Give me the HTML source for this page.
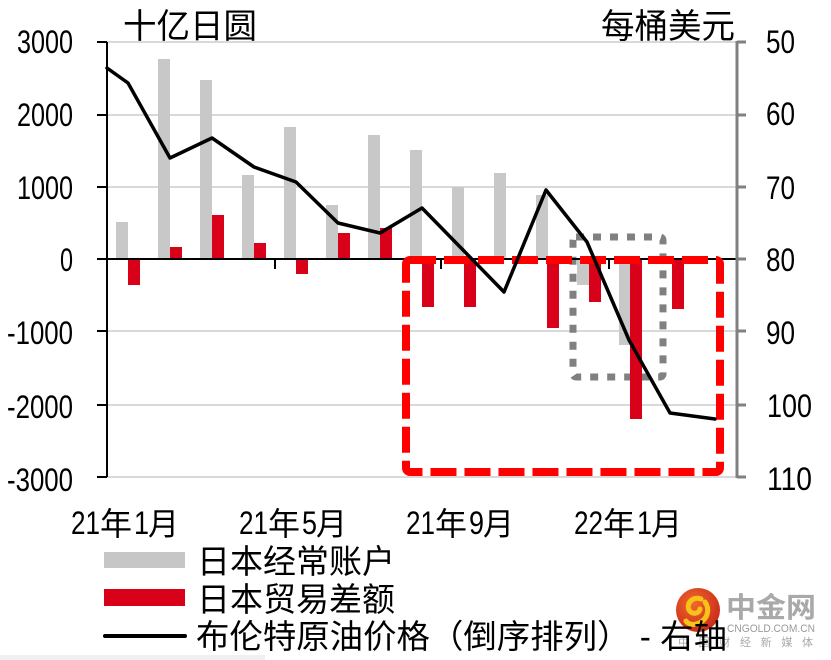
<!DOCTYPE html>
<html>
<head>
<meta charset="utf-8">
<style>
html,body{margin:0;padding:0;background:#fff;}
svg{display:block;}
.num{font-family:"Liberation Sans",sans-serif;font-size:32px;fill:#000;}
.cjk{font-family:"Liberation Sans","Noto Sans CJK SC",sans-serif;fill:#000;}
</style>
</head>
<body>
<svg width="831" height="660" viewBox="0 0 831 660" xmlns="http://www.w3.org/2000/svg">
  <rect x="0" y="0" width="831" height="660" fill="#fff"/>

  <!-- gridlines -->
  <g stroke="#d9d9d9" stroke-width="2">
    <line x1="107" y1="42" x2="737" y2="42"/>
    <line x1="107" y1="115" x2="737" y2="115"/>
    <line x1="107" y1="187" x2="737" y2="187"/>
    <line x1="107" y1="331" x2="737" y2="331"/>
    <line x1="107" y1="405" x2="737" y2="405"/>
    <line x1="107" y1="477" x2="737" y2="477"/>
  </g>

  <!-- gray bars: current account -->
  <g fill="#c8c8c8">
    <rect x="116" y="222" width="12" height="37"/>
    <rect x="158" y="59" width="12" height="200"/>
    <rect x="200" y="80" width="12" height="179"/>
    <rect x="242" y="175" width="12" height="84"/>
    <rect x="284" y="127" width="12" height="132"/>
    <rect x="326" y="205" width="12" height="54"/>
    <rect x="368" y="135" width="12" height="124"/>
    <rect x="410" y="150" width="12" height="109"/>
    <rect x="452" y="187" width="12" height="72"/>
    <rect x="494" y="173" width="12" height="86"/>
    <rect x="536" y="195" width="12" height="64"/>
    <rect x="577" y="259" width="12" height="26"/>
    <rect x="619" y="259" width="12" height="86"/>
  </g>

  <!-- gray dotted rect -->
  <rect x="573" y="237" width="90" height="140" fill="none" stroke="#808080" stroke-width="7" stroke-dasharray="8 9" rx="3"/>

  <!-- red bars: trade balance -->
  <g fill="#d9001a">
    <rect x="128" y="259" width="12" height="26"/>
    <rect x="170" y="247" width="12" height="12"/>
    <rect x="212" y="215" width="12" height="44"/>
    <rect x="254" y="243" width="12" height="16"/>
    <rect x="296" y="259" width="12" height="15"/>
    <rect x="338" y="233" width="12" height="26"/>
    <rect x="380" y="228" width="12" height="31"/>
    <rect x="422" y="259" width="12" height="48"/>
    <rect x="464" y="259" width="12" height="48"/>
    <rect x="547" y="259" width="12" height="69"/>
    <rect x="589" y="259" width="12" height="43"/>
    <rect x="630" y="259" width="12" height="160"/>
    <rect x="672" y="259" width="12" height="50"/>
  </g>

  <!-- zero line -->
  <line x1="97" y1="259" x2="737" y2="259" stroke="#000" stroke-width="2"/>
  <!-- category ticks -->
  <g stroke="#000" stroke-width="2">
    <line x1="275" y1="259" x2="275" y2="269"/>
    <line x1="441" y1="259" x2="441" y2="269"/>
    <line x1="609" y1="259" x2="609" y2="269"/>
  </g>

  <!-- left axis -->
  <line x1="107" y1="42" x2="107" y2="477" stroke="#000" stroke-width="2"/>
  <g stroke="#000" stroke-width="2">
    <line x1="97" y1="42" x2="107" y2="42"/>
    <line x1="97" y1="115" x2="107" y2="115"/>
    <line x1="97" y1="187" x2="107" y2="187"/>
    <line x1="97" y1="331" x2="107" y2="331"/>
    <line x1="97" y1="405" x2="107" y2="405"/>
    <line x1="97" y1="477" x2="107" y2="477"/>
  </g>

  <!-- right axis -->
  <line x1="737" y1="41" x2="737" y2="478" stroke="#808080" stroke-width="3"/>
  <g stroke="#808080" stroke-width="3">
    <line x1="737" y1="42" x2="746" y2="42"/>
    <line x1="737" y1="115" x2="746" y2="115"/>
    <line x1="737" y1="187" x2="746" y2="187"/>
    <line x1="737" y1="259" x2="746" y2="259"/>
    <line x1="737" y1="331" x2="746" y2="331"/>
    <line x1="737" y1="405" x2="746" y2="405"/>
    <line x1="737" y1="477" x2="746" y2="477"/>
  </g>

  <!-- red dashed rect -->
  <rect x="406" y="260" width="314" height="212" fill="none" stroke="#ff0000" stroke-width="8" stroke-dasharray="26 8" stroke-linejoin="round" rx="4"/>

  <!-- brent line -->
  <polyline fill="none" stroke="#000" stroke-width="3.5" stroke-linejoin="round" stroke-linecap="round"
    points="107,68 128,83 170,158 212,138 254,167 296,182 338,223 380,233 422,208 464,251 504,292 546,190 587,242 629,340 670,413 715,419"/>

  <!-- left labels -->
  <text class="num" x="73" y="53" text-anchor="end" textLength="56" lengthAdjust="spacingAndGlyphs">3000</text>
  <text class="num" x="73" y="126" text-anchor="end" textLength="56" lengthAdjust="spacingAndGlyphs">2000</text>
  <text class="num" x="73" y="199" text-anchor="end" textLength="56" lengthAdjust="spacingAndGlyphs">1000</text>
  <text class="num" x="73" y="271" text-anchor="end" textLength="13" lengthAdjust="spacingAndGlyphs">0</text>
  <text class="num" x="73" y="344" text-anchor="end" textLength="66" lengthAdjust="spacingAndGlyphs">-1000</text>
  <text class="num" x="73" y="418" text-anchor="end" textLength="66" lengthAdjust="spacingAndGlyphs">-2000</text>
  <text class="num" x="73" y="491" text-anchor="end" textLength="66" lengthAdjust="spacingAndGlyphs">-3000</text>

  <!-- right labels -->
  <text class="num" x="766" y="53" textLength="29" lengthAdjust="spacingAndGlyphs">50</text>
  <text class="num" x="766" y="125" textLength="29" lengthAdjust="spacingAndGlyphs">60</text>
  <text class="num" x="766" y="199" textLength="29" lengthAdjust="spacingAndGlyphs">70</text>
  <text class="num" x="766" y="271" textLength="29" lengthAdjust="spacingAndGlyphs">80</text>
  <text class="num" x="766" y="344" textLength="29" lengthAdjust="spacingAndGlyphs">90</text>
  <text class="num" x="767" y="417" textLength="45" lengthAdjust="spacingAndGlyphs">100</text>
  <text class="num" x="767" y="490" textLength="45" lengthAdjust="spacingAndGlyphs">110</text>

  <!-- axis titles -->
  <text class="cjk" x="123" y="38" font-size="34" textLength="134" lengthAdjust="spacingAndGlyphs">十亿日圆</text>
  <text class="cjk" x="601" y="38" font-size="34" textLength="134" lengthAdjust="spacingAndGlyphs">每桶美元</text>

  <!-- x labels -->
  <g>
    <text class="num" x="71" y="534" textLength="29" lengthAdjust="spacingAndGlyphs">21</text>
    <text class="cjk" x="100" y="535" font-size="32">年</text>
    <text class="num" x="134" y="534" textLength="15" lengthAdjust="spacingAndGlyphs">1</text>
    <text class="cjk" x="148" y="535" font-size="31">月</text>

    <text class="num" x="239" y="534" textLength="29" lengthAdjust="spacingAndGlyphs">21</text>
    <text class="cjk" x="268" y="535" font-size="32">年</text>
    <text class="num" x="302" y="534" textLength="15" lengthAdjust="spacingAndGlyphs">5</text>
    <text class="cjk" x="316" y="535" font-size="31">月</text>

    <text class="num" x="406" y="534" textLength="29" lengthAdjust="spacingAndGlyphs">21</text>
    <text class="cjk" x="435" y="535" font-size="32">年</text>
    <text class="num" x="469" y="534" textLength="15" lengthAdjust="spacingAndGlyphs">9</text>
    <text class="cjk" x="483" y="535" font-size="31">月</text>

    <text class="num" x="574" y="534" textLength="29" lengthAdjust="spacingAndGlyphs">22</text>
    <text class="cjk" x="603" y="535" font-size="32">年</text>
    <text class="num" x="637" y="534" textLength="15" lengthAdjust="spacingAndGlyphs">1</text>
    <text class="cjk" x="651" y="535" font-size="31">月</text>
  </g>

  <!-- watermark -->
  <defs>
    <radialGradient id="wg" cx="0.4" cy="0.35" r="0.7">
      <stop offset="0" stop-color="#f06a2a"/>
      <stop offset="1" stop-color="#c8281a"/>
    </radialGradient>
  </defs>
  <circle cx="698" cy="610" r="22" fill="url(#wg)"/>
  <path d="M701,599 c-8,-3 -15,4 -12,11 c3,5 10,4 11,-1 M705,602 c5,7 3,17 -6,21 c-6,3 -11,1 -13,-2" fill="none" stroke="#f7c21a" stroke-width="5" stroke-linecap="round"/>
  <text x="726" y="617" font-family="'Noto Sans CJK SC',sans-serif" font-weight="bold" font-size="28" fill="#a9a9a9" textLength="90" lengthAdjust="spacingAndGlyphs">中金网</text>
  <text x="727" y="632" font-family="'Liberation Sans',sans-serif" font-size="11" fill="#9a9a9a" textLength="88" lengthAdjust="spacingAndGlyphs">CNGOLD.COM.CN</text>
  <text x="678" y="646" font-family="'Noto Sans CJK SC',sans-serif" font-size="11" fill="#a9a9a9" textLength="135" lengthAdjust="spacing">中国财经新媒体</text>

  <!-- legend -->
  <rect x="104" y="552" width="81" height="16" fill="#c6c6c6"/>
  <text class="cjk" x="197" y="573" font-size="33">日本经常账户</text>
  <rect x="104" y="589" width="81" height="17" fill="#d9001a"/>
  <text class="cjk" x="197" y="611" font-size="33">日本贸易差额</text>
  <line x1="105" y1="636" x2="185" y2="636" stroke="#000" stroke-width="4" stroke-linecap="round"/>
  <text class="cjk" x="196" y="648" font-size="33" textLength="531" lengthAdjust="spacingAndGlyphs">布伦特原油价格（倒序排列） - 右轴</text>

  <!-- bottom band -->
  <rect x="0" y="655" width="265" height="5" fill="#f0f0f0"/>
</svg>
</body>
</html>
